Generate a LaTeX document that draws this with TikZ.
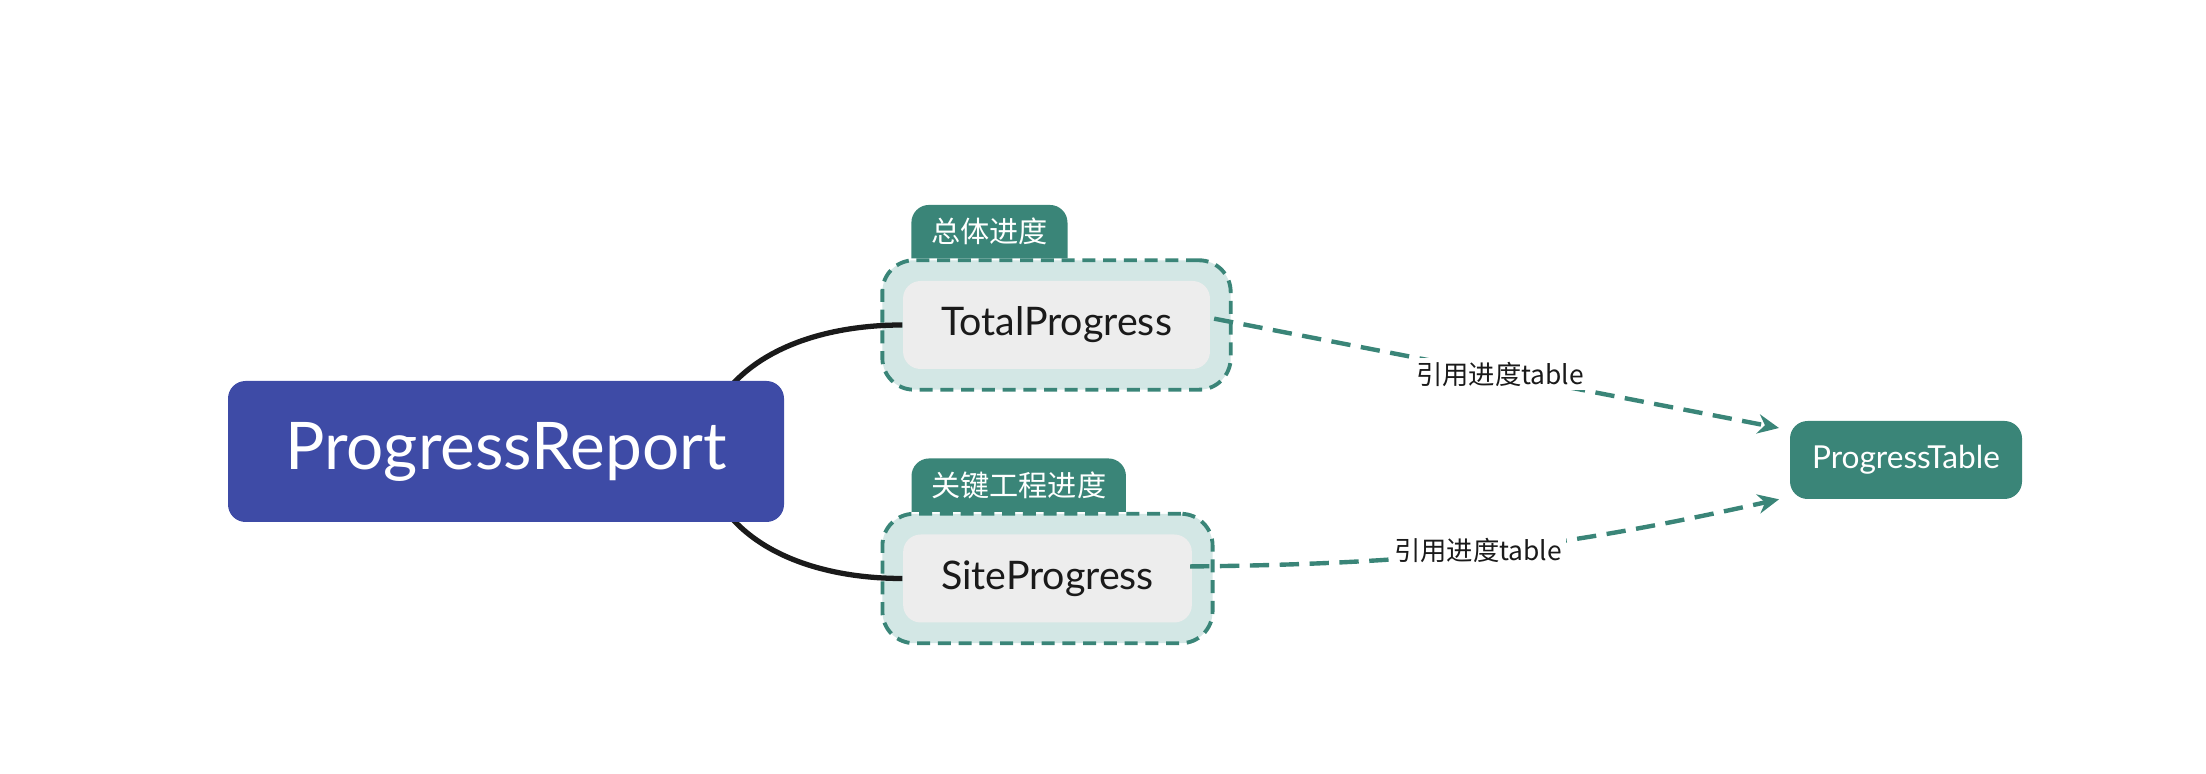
\documentclass[tikz,border=0pt]{standalone}
\usepackage{fontspec}
\setmainfont{Lato}
\newfontfamily\cjkfont{Noto Sans CJK SC}
\usepackage{tikz}
\usetikzlibrary{positioning, arrows.meta, fit, backgrounds, calc}
\usepackage{xcolor}

\definecolor{rootblue}{RGB}{62,75,166}
\definecolor{tealc}{RGB}{58,133,120}
\definecolor{paleteal}{RGB}{211,231,229}
\definecolor{greybox}{RGB}{237,237,237}
\definecolor{inkc}{RGB}{26,26,26}

\begin{document}
\begin{tikzpicture}[
  >={Stealth[length=6pt, width=5.5pt]},
  R/.style={rectangle, rounded corners=5pt, text centered},
  Root/.style={R, fill=rootblue, text=white, minimum width=5.56cm,
               minimum height=1.41cm, font=\fontsize{18.7}{21}\selectfont},
  Sub/.style={R, fill=greybox, text=inkc, minimum height=0.88cm,
              inner xsep=0.38cm, font=\fontsize{11.2}{13}\selectfont},
  Leaf/.style={R, fill=tealc, text=white, minimum width=2.32cm,
               minimum height=0.78cm, font=\fontsize{9}{11}\selectfont},
  Grp/.style={draw=tealc, fill=paleteal, line width=1.1pt,
              dash pattern=on 3.7pt off 2.2pt, rounded corners=9pt,
              inner sep=0.2cm},
  Tag/.style={text=white, minimum height=0.52cm, inner xsep=0.19cm,
              inner ysep=0pt, font=\cjkfont\fontsize{8.3}{9}\selectfont},
  link/.style={line width=1.5pt, inkc},
  refarr/.style={->, tealc, line width=1.25pt, dash pattern=on 5.5pt off 3pt,
                 shorten <=1pt, shorten >=3pt},
  lbl/.style={fill=white, inner sep=1pt, text=inkc,
              font=\cjkfont\fontsize{7.5}{9}\selectfont},
]
\useasboundingbox (0,0) rectangle (22.06,7.74);

%% ---- main nodes ----
\node[Root] (root) at ( 5.06, 3.225) {ProgressReport};
\node[Sub]  (tp)   at (10.565, 4.49) {TotalProgress};
\node[Sub]  (sp)   at (10.475, 1.955) {SiteProgress};
\node[Leaf] (pt)   at (19.06, 3.14) {ProgressTable};

%% ---- group frames + tags ----
\begin{scope}[on background layer]
  \node[Grp, fit=(tp)] (tpGrp) {};
  \node[Grp, fit=(sp)] (spGrp) {};
\end{scope}
\node[Tag, anchor=south west] (tpTag) at ([xshift=0.31cm]tpGrp.north west) {总体进度};
\node[Tag, anchor=south west] (spTag) at ([xshift=0.31cm]spGrp.north west) {关键工程进度};
\begin{scope}[on background layer]
  \fill[tealc] (tpTag.south west) [rounded corners=5pt] -- (tpTag.north west)
    -- (tpTag.north east) [sharp corners] -- (tpTag.south east) -- cycle;
  \fill[tealc] (spTag.south west) [rounded corners=5pt] -- (spTag.north west)
    -- (spTag.north east) [sharp corners] -- (spTag.south east) -- cycle;
  % root -> children (behind the root box)
  \draw[link] ([xshift=-0.85cm]root.east) to[out=80, in=180] (tp.west);
  \draw[link] ([xshift=-0.85cm]root.east) to[out=-80, in=180] (sp.west);
\end{scope}

%% ---- references ----
\draw[refarr] ([yshift=0.07cm]tp.east) -- node[lbl]{引用进度table}
  ([yshift=0.3cm]pt.west);
\draw[refarr] ([xshift=-0.06cm, yshift=0.12cm]sp.east) to[bend right=6]
  node[lbl, xshift=-0.12cm]{引用进度table} ([yshift=-0.37cm]pt.west);

\end{tikzpicture}
\end{document}
